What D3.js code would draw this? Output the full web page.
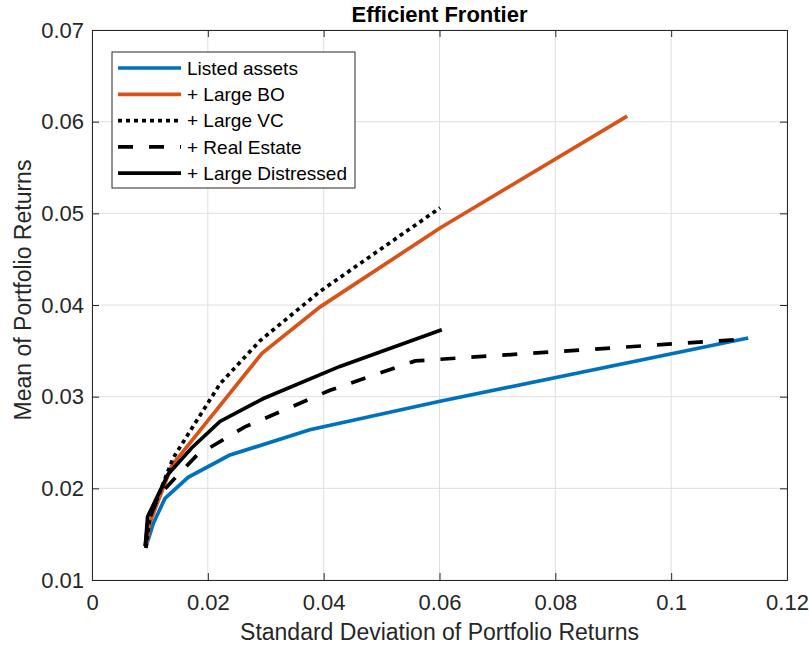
<!DOCTYPE html>
<html>
<head>
<meta charset="utf-8">
<script src="https://cdn.jsdelivr.net/npm/d3@7"></script>
<style>
  body { margin: 0; background: #fff; }
  text { font-family: Arial, "Liberation Sans", Helvetica, sans-serif; }
</style>
</head>
<body>
<script>
const width = 809, height = 646;
const margin = {top: 30, right: 22, bottom: 66, left: 92};

// data (std dev, mean)
const seriesNames = ["Listed assets", "+ Large BO", "+ Large VC", "+ Real Estate", "+ Large Distressed"];
const listedSd   = [0.0093, 0.0106, 0.0126, 0.0166, 0.0237, 0.0376, 0.0601, 0.1133];
const listedMean = [0.0136, 0.0162, 0.0189, 0.0212, 0.0236, 0.0264, 0.0295, 0.0364];
const boSd   = [0.0093, 0.0100, 0.0138, 0.0293, 0.0394, 0.0601, 0.0924];
const boMean = [0.0135, 0.0163, 0.0225, 0.0347, 0.0398, 0.0484, 0.0606];
const vcSd   = [0.0093, 0.0100, 0.0140, 0.0221, 0.0290, 0.0394, 0.0601];
const vcMean = [0.0135, 0.0168, 0.0233, 0.0314, 0.0361, 0.0415, 0.0506];
const reSd   = [0.0092, 0.0097, 0.0117, 0.0143, 0.0181, 0.0264, 0.0411, 0.0558, 0.1133];
const reMean = [0.0137, 0.0165, 0.0193, 0.0211, 0.0236, 0.0267, 0.0307, 0.0339, 0.0363];
const distSd   = [0.0092, 0.0096, 0.0131, 0.0172, 0.0221, 0.0296, 0.0428, 0.0604];
const distMean = [0.0137, 0.0169, 0.0215, 0.0244, 0.0273, 0.0298, 0.0333, 0.0373];

const xTicks = [0, 0.02, 0.04, 0.06, 0.08, 0.1, 0.12];
const yTicks = [0.01, 0.02, 0.03, 0.04, 0.05, 0.06, 0.07];

const series = [
  {name: seriesNames[0], sd: listedSd, mean: listedMean, color: "#0072BD", dash: null},
  {name: seriesNames[1], sd: boSd, mean: boMean, color: "#D95319", dash: null},
  {name: seriesNames[2], sd: vcSd, mean: vcMean, color: "#000", dash: "4,4"},
  {name: seriesNames[3], sd: reSd, mean: reMean, color: "#000", dash: "15,16"},
  {name: seriesNames[4], sd: distSd, mean: distMean, color: "#000", dash: null}
];

const w = width - margin.left - margin.right;
const h = height - margin.top - margin.bottom;

const svg = d3.select("body").append("svg")
    .attr("width", width)
    .attr("height", height);

const g = svg.append("g").attr("transform", `translate(${margin.left},${margin.top})`);

const x = d3.scaleLinear().domain([0, 0.12]).range([0, w]);
const y = d3.scaleLinear().domain([0.01, 0.07]).range([h, 0]);

// grid
g.append("g")
    .selectAll("line")
    .data(xTicks)
    .enter().append("line")
    .attr("x1", d => x(d)).attr("x2", d => x(d))
    .attr("y1", 0).attr("y2", h)
    .attr("stroke", "#dfdfdf");
g.append("g")
    .selectAll("line")
    .data(yTicks)
    .enter().append("line")
    .attr("y1", d => y(d)).attr("y2", d => y(d))
    .attr("x1", 0).attr("x2", w)
    .attr("stroke", "#dfdfdf");

// axes, ticks pointing inwards
const tickLen = 7;
const fmt = d => d === 0 ? "0" : String(+d.toFixed(2));

const xAxis = g.append("g")
    .attr("transform", `translate(0,${h})`)
    .call(d3.axisBottom(x).tickValues(xTicks).tickFormat(fmt).tickSize(-tickLen).tickPadding(14));
const yAxis = g.append("g")
    .call(d3.axisLeft(y).tickValues(yTicks).tickFormat(fmt).tickSize(-tickLen).tickPadding(8));
g.append("g")
    .call(d3.axisTop(x).tickValues(xTicks).tickFormat("").tickSize(-tickLen));
g.append("g")
    .attr("transform", `translate(${w},0)`)
    .call(d3.axisRight(y).tickValues(yTicks).tickFormat("").tickSize(-tickLen));

g.selectAll(".domain").attr("stroke", "#262626");
g.selectAll(".tick line").attr("stroke", "#262626");
[xAxis, yAxis].forEach(a => a.selectAll("text")
    .attr("font-size", 22)
    .attr("fill", "#262626")
    .attr("font-family", "Arial, 'Liberation Sans', sans-serif"));

// lines
const line = d3.line().x(d => x(d[0])).y(d => y(d[1]));

g.selectAll(".frontier")
    .data(series)
    .enter().append("path")
    .attr("class", "frontier")
    .attr("d", s => line(d3.zip(s.sd, s.mean)))
    .attr("fill", "none")
    .attr("stroke", s => s.color)
    .attr("stroke-width", 3.7)
    .attr("stroke-dasharray", s => s.dash);

// labels
svg.append("text")
    .attr("x", margin.left + w / 2)
    .attr("y", 22)
    .attr("text-anchor", "middle")
    .attr("font-size", 22)
    .attr("font-weight", "bold")
    .attr("fill", "#000")
    .text("Efficient Frontier");

svg.append("text")
    .attr("x", margin.left + w / 2)
    .attr("y", 640)
    .attr("text-anchor", "middle")
    .attr("font-size", 23)
    .attr("fill", "#262626")
    .text("Standard Deviation of Portfolio Returns");

svg.append("text")
    .attr("transform", "translate(31,290) rotate(-90)")
    .attr("text-anchor", "middle")
    .attr("font-size", 23)
    .attr("fill", "#262626")
    .text("Mean of Portfolio Returns");

// legend
const legend = svg.append("g").attr("transform", "translate(112,52)");
legend.append("rect")
    .attr("width", 243).attr("height", 136)
    .attr("fill", "#fff")
    .attr("stroke", "#262626")
    .attr("stroke-width", 1);

const item = legend.selectAll(".item")
    .data(series)
    .enter().append("g")
    .attr("transform", (d, i) => `translate(0,${16 + i * 26.3})`);
item.append("line")
    .attr("x1", 6).attr("x2", 69)
    .attr("stroke", d => d.color)
    .attr("stroke-width", 3.7)
    .attr("stroke-dasharray", d => d.dash);
item.append("text")
    .attr("x", 75)
    .attr("dy", "0.35em")
    .attr("font-size", 19)
    .attr("fill", "#000")
    .text(d => d.name);
</script>
</body>
</html>
